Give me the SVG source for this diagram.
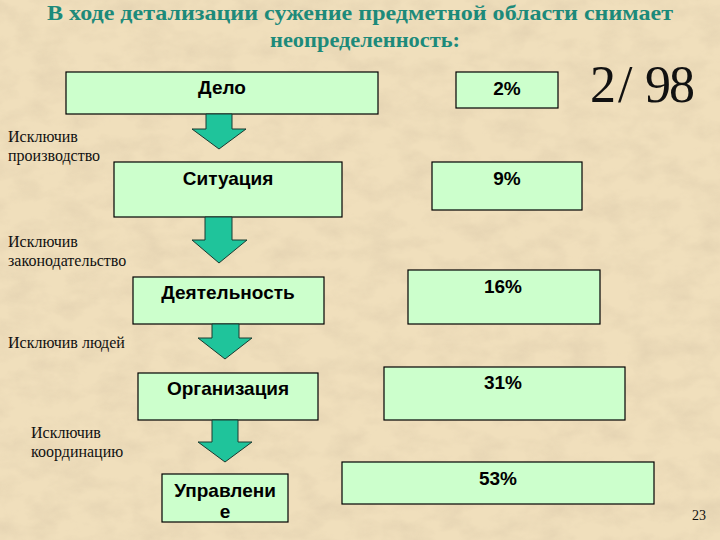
<svg xmlns="http://www.w3.org/2000/svg" width="720" height="540" viewBox="0 0 720 540">
  <defs>
    <filter id="paper" x="0" y="0" width="100%" height="100%" filterUnits="userSpaceOnUse">
      <feTurbulence type="fractalNoise" baseFrequency="0.03 0.05" numOctaves="4" seed="7" result="n"/>
      <feColorMatrix in="n" type="matrix" values="0 0 0 0 0.70  0 0 0 0 0.58  0 0 0 0 0.40  0 0 0 -1.6 1.0"/>
    </filter>
    <style>
      .box { fill: #ccffcc; stroke: #000000; stroke-width: 1.2; }
      .bt { font-family: "Liberation Sans", Arial, sans-serif; font-weight: bold; font-size: 19px; fill: #000000; text-anchor: middle; }
      .lbl { font-family: "Liberation Serif", "Times New Roman", serif; font-size: 16px; fill: #111111; }
      .title { font-family: "Liberation Serif", "Times New Roman", serif; font-weight: bold; font-size: 21px; fill: #1d8a7a; text-anchor: middle; }
      .arrow { fill: #1fc49b; stroke: #1a3a30; stroke-width: 1; stroke-linejoin: miter; }
    </style>
  </defs>

  <rect x="0" y="0" width="720" height="540" fill="#f0dfbc"/>
  <rect x="0" y="0" width="720" height="540" filter="url(#paper)" opacity="0.55"/>

  <g id="title">
    <text class="title" x="360" y="20" textLength="626" lengthAdjust="spacingAndGlyphs">В ходе детализации сужение предметной области снимает</text>
    <text class="title" x="365" y="47" textLength="190" lengthAdjust="spacingAndGlyphs">неопределенность:</text>
  </g>

  <g id="ratio">
    <text x="590 618 645 669" y="102" font-family="Liberation Serif, 'Times New Roman', serif" font-size="52" fill="#111111">2/98</text>
  </g>

  <g id="node-delo">
    <rect class="box" x="66" y="72" width="312" height="42"/>
    <text class="bt" x="222" y="94">Дело</text>
  </g>
  <g id="node-situatsiya">
    <rect class="box" x="114" y="162" width="228" height="55"/>
    <text class="bt" x="228" y="185">Ситуация</text>
  </g>
  <g id="node-deyatelnost">
    <rect class="box" x="133" y="277" width="191" height="47"/>
    <text class="bt" x="228" y="299">Деятельность</text>
  </g>
  <g id="node-organizatsiya">
    <rect class="box" x="138" y="373" width="180" height="47"/>
    <text class="bt" x="228" y="395">Организация</text>
  </g>
  <g id="node-upravlenie">
    <rect class="box" x="162" y="474" width="126" height="48"/>
    <text class="bt" x="225" y="497">Управлени</text>
    <text class="bt" x="225" y="518">е</text>
  </g>

  <g id="pct-2">
    <rect class="box" x="456" y="72" width="102" height="36"/>
    <text class="bt" x="507" y="95">2%</text>
  </g>
  <g id="pct-9">
    <rect class="box" x="432" y="162" width="150" height="48"/>
    <text class="bt" x="507" y="185">9%</text>
  </g>
  <g id="pct-16">
    <rect class="box" x="408" y="270" width="192" height="54"/>
    <text class="bt" x="503" y="293">16%</text>
  </g>
  <g id="pct-31">
    <rect class="box" x="384" y="367" width="241" height="53"/>
    <text class="bt" x="503" y="389">31%</text>
  </g>
  <g id="pct-53">
    <rect class="box" x="342" y="462" width="312" height="42"/>
    <text class="bt" x="498" y="485">53%</text>
  </g>

  <g id="labels">
    <text class="lbl" x="8" y="142">Исключив</text>
    <text class="lbl" x="8" y="161">производство</text>
    <text class="lbl" x="8" y="247">Исключив</text>
    <text class="lbl" x="8" y="266">законодательство</text>
    <text class="lbl" x="8" y="348">Исключив людей</text>
    <text class="lbl" x="31" y="438">Исключив</text>
    <text class="lbl" x="31" y="457">координацию</text>
  </g>

  <g id="connectors">
    <polygon class="arrow" points="206,114 232,114 232,129 246,129 219,149 192,129 206,129"/>
    <polygon class="arrow" points="205,217 232,217 232,240 247,240 219,263 192,240 205,240"/>
    <polygon class="arrow" points="212,324 239,324 239,338 252,338 225,359 198,338 212,338"/>
    <polygon class="arrow" points="212,420 238,420 238,442 252,442 225,462 198,442 212,442"/>
  </g>

  <g id="page-number">
    <text x="692" y="520" font-family="Liberation Serif, 'Times New Roman', serif" font-size="14" fill="#111111">23</text>
  </g>
</svg>
